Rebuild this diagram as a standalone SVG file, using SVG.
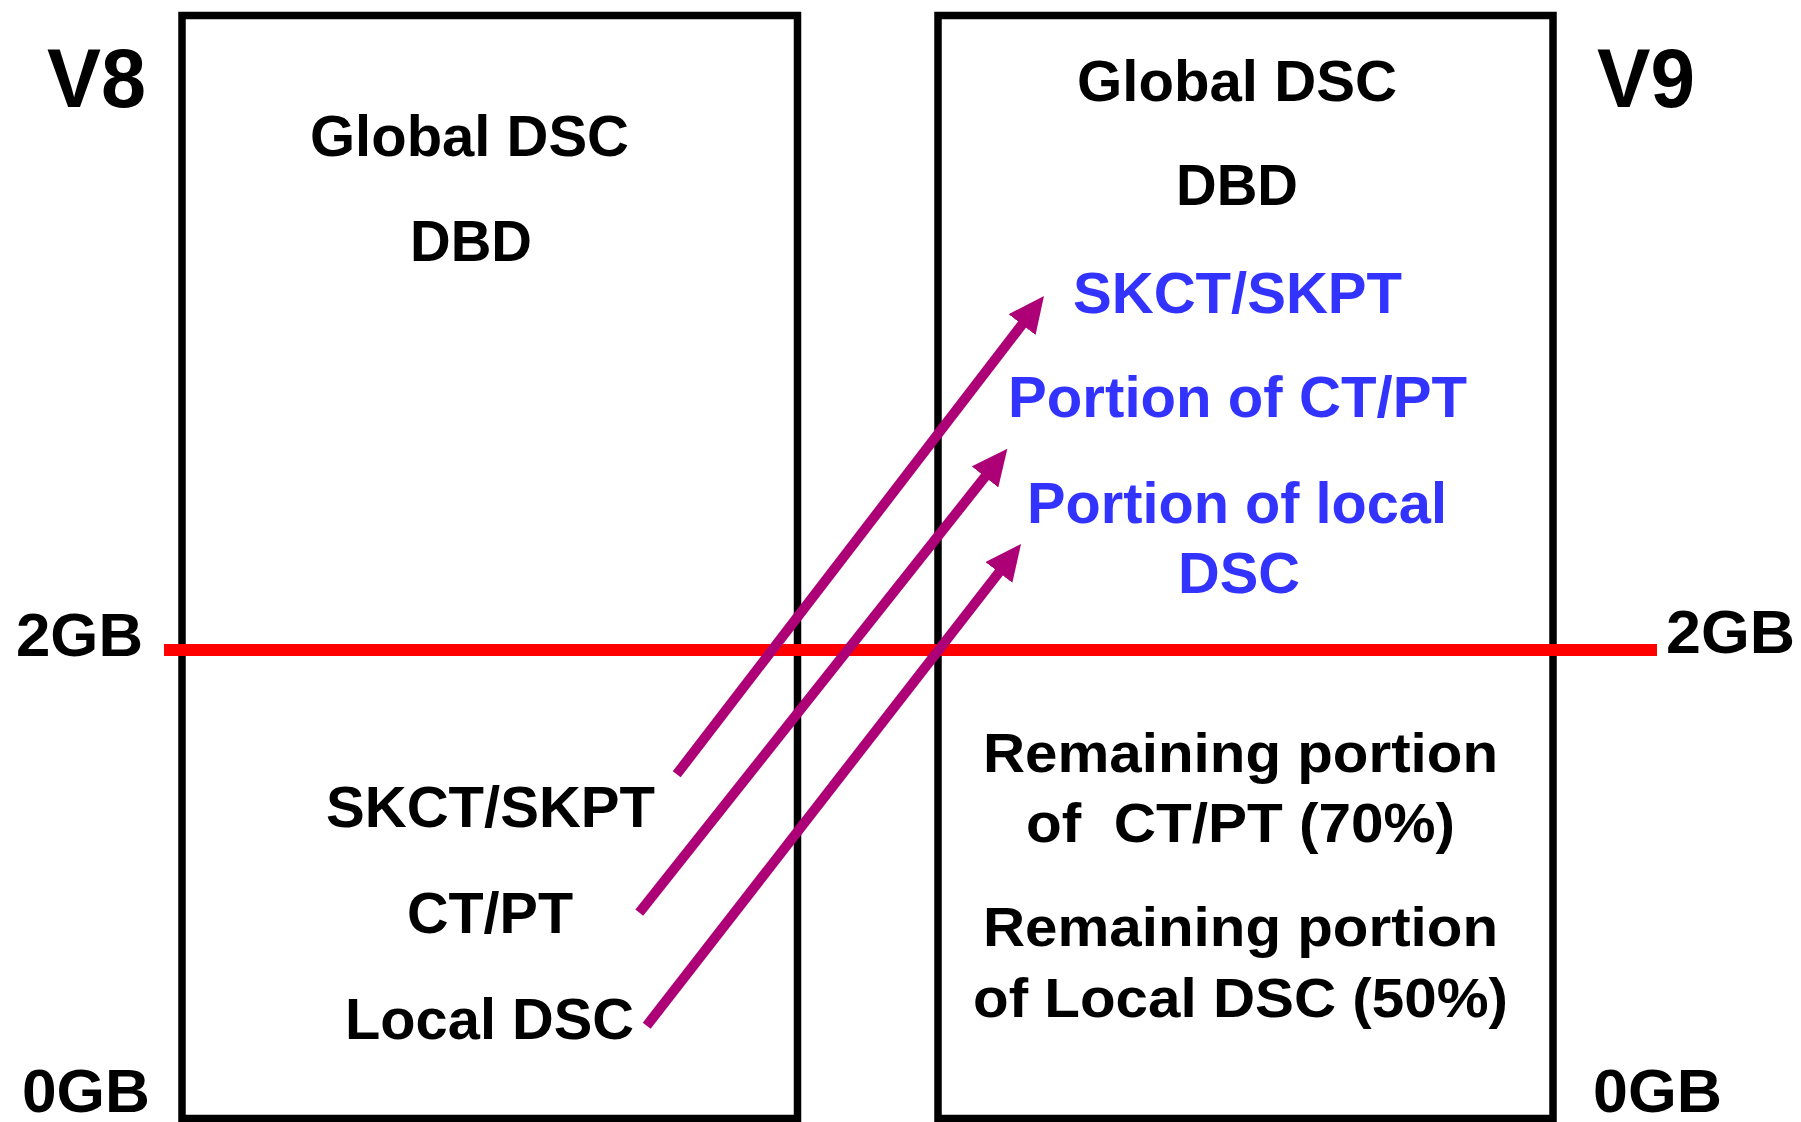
<svg xmlns="http://www.w3.org/2000/svg" width="1801" height="1122" viewBox="0 0 1801 1122">
<style>
text{font-family:"Liberation Sans",Arial,sans-serif;font-weight:bold;fill:#000}
.t58{font-size:58px}
.big{font-size:84px}
.gb{font-size:62px}
.rem{font-size:56px}
.blue{fill:#3333FF}
.box{fill:none;stroke:#000;stroke-width:7.5}
.arr{stroke:#AD0077;stroke-width:10;fill:none;marker-end:url(#ah)}
</style>
<defs>
<marker id="ah" markerUnits="userSpaceOnUse" markerWidth="36" markerHeight="34" viewBox="0 0 36 34" refX="6" refY="17" orient="auto">
<path d="M0,0 L36,17 L0,34 Z" fill="#AD0077"/>
</marker>
</defs>
<rect width="1801" height="1122" fill="#fff"/>
<g id="v8-box">
<rect class="box" x="182" y="15.5" width="615.5" height="1103"/>
<text class="t58" x="310" y="156" textLength="319" lengthAdjust="spacingAndGlyphs">Global DSC</text>
<text class="t58" x="410" y="261" textLength="122" lengthAdjust="spacingAndGlyphs">DBD</text>
<text class="t58" x="326" y="827" textLength="329" lengthAdjust="spacingAndGlyphs">SKCT/SKPT</text>
<text class="t58" x="407" y="933" textLength="166" lengthAdjust="spacingAndGlyphs">CT/PT</text>
<text class="t58" x="345" y="1039" textLength="289" lengthAdjust="spacingAndGlyphs">Local DSC</text>
</g>
<g id="v9-box">
<rect class="box" x="938" y="15.5" width="615" height="1103"/>
<text class="t58" x="1077" y="101" textLength="320" lengthAdjust="spacingAndGlyphs">Global DSC</text>
<text class="t58" x="1176" y="205" textLength="122" lengthAdjust="spacingAndGlyphs">DBD</text>
<text class="t58 blue" x="1073" y="313" textLength="329" lengthAdjust="spacingAndGlyphs">SKCT/SKPT</text>
<text class="t58 blue" x="1008" y="417" textLength="459" lengthAdjust="spacingAndGlyphs">Portion of CT/PT</text>
<text class="t58 blue" x="1027" y="523" textLength="420" lengthAdjust="spacingAndGlyphs">Portion of local</text>
<text class="t58 blue" x="1178" y="593" textLength="122" lengthAdjust="spacingAndGlyphs">DSC</text>
<text class="rem" x="983" y="772" textLength="515" lengthAdjust="spacingAndGlyphs">Remaining portion</text>
<text class="rem" x="1026" y="842" textLength="429" lengthAdjust="spacingAndGlyphs" xml:space="preserve" style="white-space:pre">of  CT/PT (70%)</text>
<text class="rem" x="983" y="946" textLength="515" lengthAdjust="spacingAndGlyphs">Remaining portion</text>
<text class="rem" x="973" y="1017" textLength="535" lengthAdjust="spacingAndGlyphs">of Local DSC (50%)</text>
</g>
<g id="labels">
<text class="big" x="47" y="107" textLength="99" lengthAdjust="spacingAndGlyphs">V8</text>
<text class="big" x="1597" y="107" textLength="98" lengthAdjust="spacingAndGlyphs">V9</text>
<text class="gb" x="16" y="656" textLength="127" lengthAdjust="spacingAndGlyphs">2GB</text>
<text class="gb" x="1666" y="653" textLength="129" lengthAdjust="spacingAndGlyphs">2GB</text>
<text class="gb" x="22" y="1112" textLength="128" lengthAdjust="spacingAndGlyphs">0GB</text>
<text class="gb" x="1593" y="1112" textLength="129" lengthAdjust="spacingAndGlyphs">0GB</text>
</g>
<g id="boundary-2gb">
<line x1="164" y1="650" x2="1657" y2="650" stroke="#FF0000" stroke-width="12"/>
</g>
<g id="connectors">
<line class="arr" x1="676.7" y1="774.3" x2="1025.7" y2="319.8"/>
<line class="arr" x1="639.3" y1="912.7" x2="988.7" y2="472.2"/>
<line class="arr" x1="646.7" y1="1025.7" x2="1002.6" y2="567.7"/>
</g>
</svg>
